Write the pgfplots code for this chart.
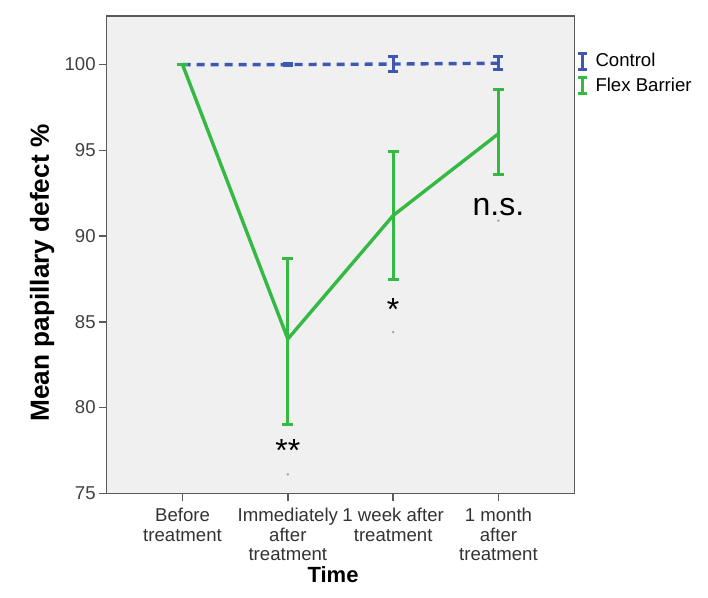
\documentclass[border=0pt]{standalone}
\usepackage{fontspec}
\setmainfont{Liberation Sans}
\usepackage{pgfplots}
\pgfplotsset{compat=1.18}
\definecolor{ctrlblue}{RGB}{62,88,178}
\definecolor{flexgreen}{RGB}{52,186,68}
\definecolor{plotbg}{RGB}{240,240,240}
\definecolor{axgray}{RGB}{90,90,90}

\begin{document}
\begin{tikzpicture}
\begin{axis}[
  scale only axis,
  width=233.8pt, height=238.8pt,
  xmin=-0.72, xmax=3.72,
  ymin=75, ymax=102.85,
  xtick={0,1,2,3},
  xticklabels={Before\\treatment, Immediately\\after\\treatment, 1 week after\\treatment, 1 month\\after\\treatment},
  xticklabel style={align=center, font=\fontsize{9.3}{9.6}\selectfont, text=black!80},
  ytick={75,80,85,90,95,100},
  yticklabel style={font=\fontsize{9.3}{11}\selectfont, text=black!75, xshift=2pt},
  /pgf/number format/assume math mode=true,
  tick align=outside, tick pos=left, major tick length=4pt,
  tick style={axgray, line width=0.8pt},
  axis line style={axgray, line width=0.8pt},
  axis background/.style={fill=plotbg},
  xlabel={Time}, ylabel={Mean papillary defect \%},
  xlabel style={font=\bfseries\fontsize{11}{13}\selectfont, at={(axis description cs:0.484,-0.171)}, anchor=center},
  ylabel style={font=\bfseries\fontsize{13.1}{15}\selectfont, at={(axis description cs:-0.138,0.461)}, anchor=center},
  legend style={at={(axis description cs:1,1)}, anchor=north west, xshift=1pt, yshift=-17pt,
    draw=none, fill=none, font=\fontsize{9.3}{11}\selectfont, inner sep=0pt,
    row sep=1pt, nodes={inner sep=1.5pt}},
  legend cell align=left,
]
% Control
\addplot[ctrlblue, line width=1.7pt, dash pattern=on 4pt off 3pt, mark=none,
  legend image code/.code={\draw[ctrlblue, solid, line width=1.4pt] (0pt,-4pt) -- (0pt,4pt) (-2.2pt,-4pt) -- (2.2pt,-4pt) (-2.2pt,4pt) -- (2.2pt,4pt); \path[draw=none, fill=none] (0pt,0pt) -- (5pt,0pt);},
  error bars/.cd, y dir=both, y explicit,
  error bar style={solid, line width=1.5pt, ctrlblue},
  error mark options={rotate=90, mark size=2.5pt, line width=1.5pt, solid, ctrlblue}]
  coordinates {(0,100) +- (0,0) (1,100) +- (0,0.05) (2,100.03) +- (0,0.42) (3,100.08) +- (0,0.37)};
\addlegendentry{Control}
% Flex Barrier
\addplot[flexgreen, line width=1.7pt, mark=none,
  legend image code/.code={\draw[flexgreen, solid, line width=1.4pt] (0pt,-4pt) -- (0pt,4pt) (-2.2pt,-4pt) -- (2.2pt,-4pt) (-2.2pt,4pt) -- (2.2pt,4pt); \path[draw=none, fill=none] (0pt,0pt) -- (5pt,0pt);},
  error bars/.cd, y dir=both, y explicit,
  error bar style={line width=1.6pt, flexgreen},
  error mark options={rotate=90, mark size=2.75pt, line width=1.6pt, flexgreen}]
  coordinates {(0,100) +- (0,0) (1,84.0) += (0,4.7) -= (0,5.0) (2,91.2) +- (0,3.74) (3,95.97) += (0,2.59) -= (0,2.39)};
\addlegendentry{Flex Barrier}
% faint dots under the labels
\addplot[forget plot, only marks, mark=*, mark size=0.4pt, gray!70] coordinates {(1,76.1) (2,84.4) (3,90.9)};
\node[font=\fontsize{16}{16}\selectfont, anchor=base] at (axis cs:1,76.88) {**};
\node[font=\fontsize{16}{16}\selectfont, anchor=base] at (axis cs:2,85.1) {*};
\node[font=\fontsize{16}{16}\selectfont, anchor=base] at (axis cs:3,91.22) {n.s.};
\coordinate (bl) at (rel axis cs:0,0);
\coordinate (tr) at (rel axis cs:1,1);
\end{axis}
\path ([xshift=-53.35pt,yshift=-51.85pt]bl) rectangle ([xshift=66.85pt,yshift=7.85pt]tr);
\end{tikzpicture}
\end{document}
